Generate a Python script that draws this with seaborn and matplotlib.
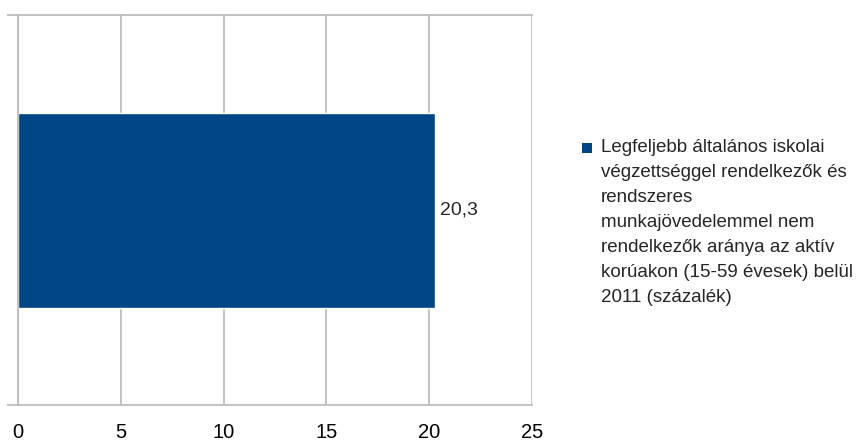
import matplotlib
matplotlib.use("Agg")
import matplotlib.pyplot as plt
import matplotlib.patches as mpatches
import seaborn as sns
import pandas as pd

# Data
categories = ["2011"]
values = [20.3]
value_labels = ["20,3"]
legend_text = ("Legfeljebb általános iskolai\n"
               "végzettséggel rendelkezők és\n"
               "rendszeres\n"
               "munkajövedelemmel nem\n"
               "rendelkezők aránya az aktív\n"
               "korúakon (15-59 évesek) belül\n"
               "2011 (százalék)")
x_ticks = [0, 5, 10, 15, 20, 25]

bar_color = "#004586"
grid_color = "#b8b8b8"

sns.set_style("white")
plt.rcParams["font.family"] = ["Liberation Sans", "DejaVu Sans"]

df = pd.DataFrame({"cat": categories, "val": values})

fig = plt.figure(figsize=(8.64, 4.41), dpi=100)
ax = fig.add_axes([18 / 864, 36 / 441, (532 - 18) / 864, 390 / 441])

sns.barplot(data=df, x="val", y="cat", orient="h", color=bar_color,
            width=0.5, saturation=1, ax=ax)

ax.set_xlim(0, 25)
ax.set_ylim(0.5, -0.5)
ax.set_xticks(x_ticks)
ax.set_xticklabels([str(t) for t in x_ticks], fontsize=14.5)
ax.set_yticks([-0.5, 0.5])
ax.set_yticklabels(["", ""])
ax.set_xlabel("")
ax.set_ylabel("")

ax.grid(axis="x", color=grid_color, linewidth=1.2)
ax.set_axisbelow(True)
ax.tick_params(axis="x", length=9, width=1.2, color=grid_color, pad=4, labelcolor="black")
ax.tick_params(axis="y", length=8, width=1.2, color=grid_color, left=True)
for side in ["left", "bottom", "top"]:
    ax.spines[side].set_color(grid_color)
    ax.spines[side].set_linewidth(1.2)
ax.spines["right"].set_visible(False)

ax.bar_label(ax.containers[0], labels=value_labels, padding=3, fontsize=14)

# Legend
fig.patches.append(mpatches.Rectangle((582 / 864, 1 - 153 / 441), 10 / 864, 10 / 441,
                                      transform=fig.transFigure, facecolor=bar_color,
                                      edgecolor="none"))
fig.text(601 / 864, 1 - 139 / 441, legend_text, fontsize=13.5, va="top", ha="left",
         linespacing=1.62)

fig.savefig("out.png", dpi=100)
